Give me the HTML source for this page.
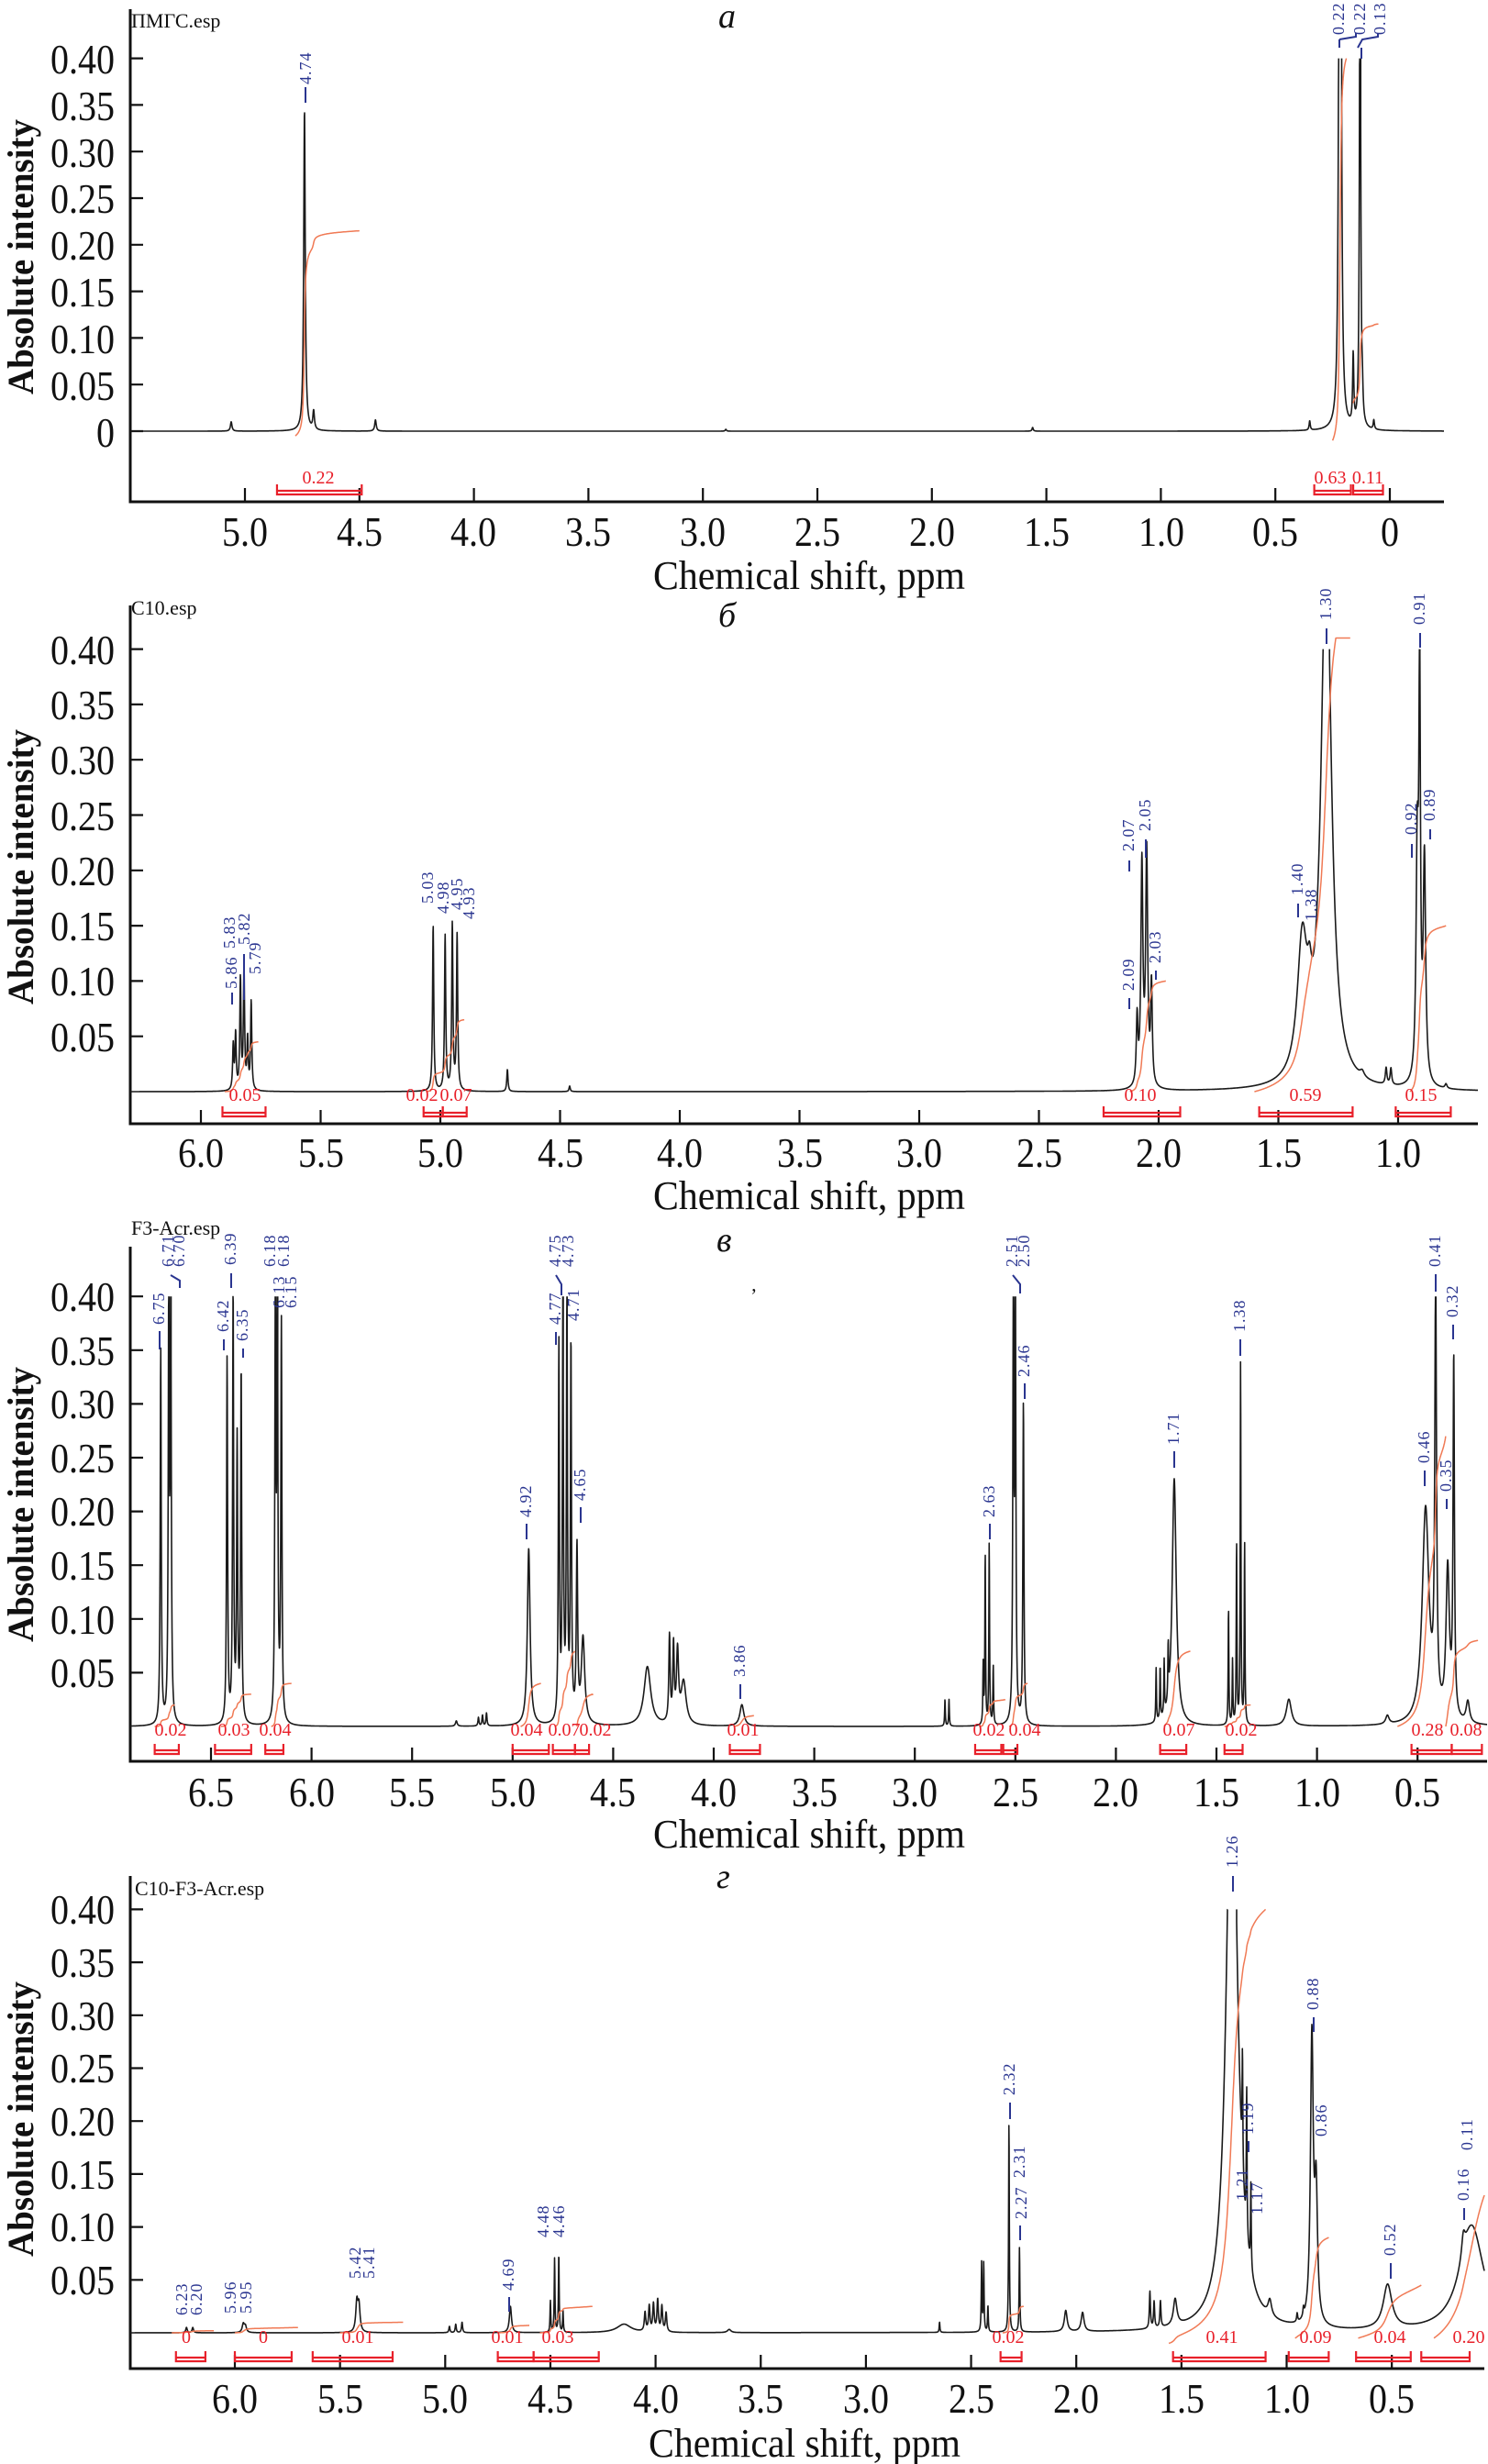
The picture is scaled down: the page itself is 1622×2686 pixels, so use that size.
<!DOCTYPE html>
<html><head><meta charset="utf-8">
<style>
html,body{margin:0;padding:0;background:#fff;}
svg{display:block;}
.tk{font-family:"Liberation Serif",serif;font-size:46px;fill:#111;}
.xl{font-family:"Liberation Serif",serif;font-size:44px;fill:#111;}
.yl{font-family:"Liberation Serif",serif;font-size:40px;fill:#111;font-weight:bold;}
.fn{font-family:"Liberation Serif","Noto Serif CJK SC",serif;font-size:22px;fill:#111;}
.ttl{font-family:"Liberation Serif",serif;font-size:38px;font-style:italic;fill:#111;}
.bl{font-family:"Liberation Serif",serif;font-size:18px;fill:#2a3590;letter-spacing:1px;}
.rd{font-family:"Liberation Serif",serif;font-size:20px;fill:#e8202a;}
</style></head><body>
<svg id="s" xmlns="http://www.w3.org/2000/svg" width="1622" height="2686" viewBox="0 0 1622 2686">
<rect width="1622" height="2686" fill="#fff"/>
<g id="dyn"></g>

<!-- Panel a -->
<text class="fn" x="143" y="30">ПМГС.esp</text>
<text class="ttl" x="783" y="30">a</text>
<g class="tk" text-anchor="end">
<text x="125" y="80" textLength="70" lengthAdjust="spacingAndGlyphs">0.40</text>
<text x="125" y="131" textLength="70" lengthAdjust="spacingAndGlyphs">0.35</text>
<text x="125" y="182" textLength="70" lengthAdjust="spacingAndGlyphs">0.30</text>
<text x="125" y="232" textLength="70" lengthAdjust="spacingAndGlyphs">0.25</text>
<text x="125" y="283" textLength="70" lengthAdjust="spacingAndGlyphs">0.20</text>
<text x="125" y="334" textLength="70" lengthAdjust="spacingAndGlyphs">0.15</text>
<text x="125" y="385" textLength="70" lengthAdjust="spacingAndGlyphs">0.10</text>
<text x="125" y="436" textLength="70" lengthAdjust="spacingAndGlyphs">0.05</text>
<text x="125" y="487" textLength="20" lengthAdjust="spacingAndGlyphs">0</text>
</g>
<g class="tk tkx" text-anchor="middle">
<text x="267" y="595">5.0</text><text x="392" y="595">4.5</text><text x="516" y="595">4.0</text><text x="641" y="595">3.5</text><text x="766" y="595">3.0</text><text x="891" y="595">2.5</text><text x="1016" y="595">2.0</text><text x="1141" y="595">1.5</text><text x="1266" y="595">1.0</text><text x="1390" y="595">0.5</text><text x="1515" y="595">0</text>
</g>
<text class="xl" x="882" y="642" text-anchor="middle" textLength="340" lengthAdjust="spacingAndGlyphs">Chemical shift, ppm</text>
<text class="yl" transform="translate(36,430) rotate(-90)" textLength="300" lengthAdjust="spacingAndGlyphs">Absolute intensity</text>
<g class="bl">
<text transform="translate(339,92) rotate(-90)">4.74</text>
<text transform="translate(1465,38) rotate(-90)">0.22</text>
<text transform="translate(1488,38) rotate(-90)">0.22</text>
<text transform="translate(1510,38) rotate(-90)">0.13</text>
</g>
<g stroke="#2a3590" stroke-width="2" fill="none">
<path d="M333 95V112"/><path d="M1460 43V52M1460 43L1478 40V36M1480 52L1485 43L1502 40V36M1484 52V64"/>
</g>
<g class="rd" text-anchor="middle">
<text x="347" y="527">0.22</text><text x="1450" y="527">0.63</text><text x="1491" y="527">0.11</text>
</g>

<!-- Panel b -->
<text class="fn" x="143" y="670">C10.esp</text>
<text class="ttl" x="783" y="683">б</text>
<g class="tk" text-anchor="end">
<text x="125" y="724" textLength="70" lengthAdjust="spacingAndGlyphs">0.40</text>
<text x="125" y="784" textLength="70" lengthAdjust="spacingAndGlyphs">0.35</text>
<text x="125" y="844" textLength="70" lengthAdjust="spacingAndGlyphs">0.30</text>
<text x="125" y="905" textLength="70" lengthAdjust="spacingAndGlyphs">0.25</text>
<text x="125" y="965" textLength="70" lengthAdjust="spacingAndGlyphs">0.20</text>
<text x="125" y="1025" textLength="70" lengthAdjust="spacingAndGlyphs">0.15</text>
<text x="125" y="1085" textLength="70" lengthAdjust="spacingAndGlyphs">0.10</text>
<text x="125" y="1146" textLength="70" lengthAdjust="spacingAndGlyphs">0.05</text>
</g>
<g class="tk tkx" text-anchor="middle">
<text x="219" y="1272">6.0</text><text x="350" y="1272">5.5</text><text x="480" y="1272">5.0</text><text x="611" y="1272">4.5</text><text x="741" y="1272">4.0</text><text x="872" y="1272">3.5</text><text x="1002" y="1272">3.0</text><text x="1133" y="1272">2.5</text><text x="1263" y="1272">2.0</text><text x="1394" y="1272">1.5</text><text x="1524" y="1272">1.0</text>
</g>
<text class="xl" x="882" y="1318" text-anchor="middle" textLength="340" lengthAdjust="spacingAndGlyphs">Chemical shift, ppm</text>
<text class="yl" transform="translate(36,1095) rotate(-90)" textLength="300" lengthAdjust="spacingAndGlyphs">Absolute intensity</text>
<g class="bl">
<text transform="translate(258,1078) rotate(-90)">5.86</text>
<text transform="translate(256,1034) rotate(-90)">5.83</text>
<text transform="translate(272,1030) rotate(-90)">5.82</text>
<text transform="translate(284,1062) rotate(-90)">5.79</text>
<text transform="translate(472,985) rotate(-90)">5.03</text>
<text transform="translate(489,996) rotate(-90)">4.98</text>
<text transform="translate(504,992) rotate(-90)">4.95</text>
<text transform="translate(517,1002) rotate(-90)">4.93</text>
<text transform="translate(1236,1080) rotate(-90)">2.09</text>
<text transform="translate(1236,928) rotate(-90)">2.07</text>
<text transform="translate(1254,906) rotate(-90)">2.05</text>
<text transform="translate(1265,1050) rotate(-90)">2.03</text>
<text transform="translate(1420,976) rotate(-90)">1.40</text>
<text transform="translate(1435,1004) rotate(-90)">1.38</text>
<text transform="translate(1451,676) rotate(-90)">1.30</text>
<text transform="translate(1544,910) rotate(-90)">0.92</text>
<text transform="translate(1553,681) rotate(-90)">0.91</text>
<text transform="translate(1564,895) rotate(-90)">0.89</text>
</g>
<g stroke="#2a3590" stroke-width="2" fill="none">
<path d="M253 1082V1095M266 1040V1090M1231 938V950M1249 915V935M1446 685V702M1548 690V706M1539 920V935M1559 904V915M1415 985V1000M1231 1088V1100M1260 1058V1068"/>
</g>
<g class="rd" text-anchor="middle">
<text x="267" y="1200">0.05</text><text x="460" y="1200">0.02</text><text x="497" y="1200">0.07</text><text x="1243" y="1200">0.10</text><text x="1423" y="1200">0.59</text><text x="1549" y="1200">0.15</text>
</g>

<!-- Panel v -->
<text class="fn" x="143" y="1346">F3-Acr.esp</text>
<text class="ttl" x="781" y="1364">в</text>
<text class="fn" x="818" y="1420">ʼ</text>
<g class="tk" text-anchor="end">
<text x="125" y="1429" textLength="70" lengthAdjust="spacingAndGlyphs">0.40</text>
<text x="125" y="1488" textLength="70" lengthAdjust="spacingAndGlyphs">0.35</text>
<text x="125" y="1546" textLength="70" lengthAdjust="spacingAndGlyphs">0.30</text>
<text x="125" y="1605" textLength="70" lengthAdjust="spacingAndGlyphs">0.25</text>
<text x="125" y="1663" textLength="70" lengthAdjust="spacingAndGlyphs">0.20</text>
<text x="125" y="1722" textLength="70" lengthAdjust="spacingAndGlyphs">0.15</text>
<text x="125" y="1781" textLength="70" lengthAdjust="spacingAndGlyphs">0.10</text>
<text x="125" y="1839" textLength="70" lengthAdjust="spacingAndGlyphs">0.05</text>
</g>
<g class="tk tkx" text-anchor="middle">
<text x="230" y="1969">6.5</text><text x="340" y="1969">6.0</text><text x="449" y="1969">5.5</text><text x="559" y="1969">5.0</text><text x="668" y="1969">4.5</text><text x="778" y="1969">4.0</text><text x="888" y="1969">3.5</text><text x="997" y="1969">3.0</text><text x="1107" y="1969">2.5</text><text x="1216" y="1969">2.0</text><text x="1326" y="1969">1.5</text><text x="1436" y="1969">1.0</text><text x="1545" y="1969">0.5</text>
</g>
<text class="xl" x="882" y="2014" text-anchor="middle" textLength="340" lengthAdjust="spacingAndGlyphs">Chemical shift, ppm</text>
<text class="yl" transform="translate(36,1790) rotate(-90)" textLength="300" lengthAdjust="spacingAndGlyphs">Absolute intensity</text>
<g class="bl">
<text transform="translate(179,1444) rotate(-90)">6.75</text>
<text transform="translate(189,1381) rotate(-90)">6.71</text>
<text transform="translate(201,1381) rotate(-90)">6.70</text>
<text transform="translate(249,1452) rotate(-90)">6.42</text>
<text transform="translate(257,1379) rotate(-90)">6.39</text>
<text transform="translate(270,1462) rotate(-90)">6.35</text>
<text transform="translate(300,1381) rotate(-90)">6.18</text>
<text transform="translate(315,1381) rotate(-90)">6.18</text>
<text transform="translate(310,1426) rotate(-90)">6.13</text>
<text transform="translate(323,1426) rotate(-90)">6.15</text>
<text transform="translate(579,1654) rotate(-90)">4.92</text>
<text transform="translate(611,1444) rotate(-90)">4.77</text>
<text transform="translate(611,1381) rotate(-90)">4.75</text>
<text transform="translate(625,1381) rotate(-90)">4.73</text>
<text transform="translate(631,1440) rotate(-90)">4.71</text>
<text transform="translate(638,1636) rotate(-90)">4.65</text>
<text transform="translate(812,1828) rotate(-90)">3.86</text>
<text transform="translate(1084,1654) rotate(-90)">2.63</text>
<text transform="translate(1109,1381) rotate(-90)">2.51</text>
<text transform="translate(1122,1381) rotate(-90)">2.50</text>
<text transform="translate(1122,1501) rotate(-90)">2.46</text>
<text transform="translate(1285,1575) rotate(-90)">1.71</text>
<text transform="translate(1357,1452) rotate(-90)">1.38</text>
<text transform="translate(1558,1595) rotate(-90)">0.46</text>
<text transform="translate(1570,1381) rotate(-90)">0.41</text>
<text transform="translate(1582,1626) rotate(-90)">0.35</text>
<text transform="translate(1589,1436) rotate(-90)">0.32</text>
</g>
<g stroke="#2a3590" stroke-width="2" fill="none">
<path d="M174 1451V1471M186 1390L196 1396V1404M252 1388V1404M244 1460V1472M265 1470V1480M574 1661V1678M633 1643V1660M807 1836V1852M1079 1661V1678M1104 1390L1112 1400V1410M1117 1508V1525M1280 1582V1600M1352 1460V1478M1553 1603V1620M1565 1389V1408M1584 1444V1460M606 1390L612 1400V1412M606 1452V1466M1577 1634V1645"/>
</g>
<g class="rd" text-anchor="middle">
<text x="186" y="1892">0.02</text><text x="255" y="1892">0.03</text><text x="300" y="1892">0.04</text><text x="574" y="1892">0.04</text><text x="615" y="1892">0.07</text><text x="649" y="1892">0.02</text><text x="810" y="1892">0.01</text><text x="1078" y="1892">0.02</text><text x="1117" y="1892">0.04</text><text x="1285" y="1892">0.07</text><text x="1353" y="1892">0.02</text><text x="1556" y="1892">0.28</text><text x="1598" y="1892">0.08</text>
</g>

<!-- Panel g -->
<text class="fn" x="147" y="2066">C10-F3-Acr.esp</text>
<text class="ttl" x="781" y="2058">г</text>
<g class="tk" text-anchor="end">
<text x="125" y="2097" textLength="70" lengthAdjust="spacingAndGlyphs">0.40</text>
<text x="125" y="2155" textLength="70" lengthAdjust="spacingAndGlyphs">0.35</text>
<text x="125" y="2213" textLength="70" lengthAdjust="spacingAndGlyphs">0.30</text>
<text x="125" y="2270" textLength="70" lengthAdjust="spacingAndGlyphs">0.25</text>
<text x="125" y="2328" textLength="70" lengthAdjust="spacingAndGlyphs">0.20</text>
<text x="125" y="2386" textLength="70" lengthAdjust="spacingAndGlyphs">0.15</text>
<text x="125" y="2443" textLength="70" lengthAdjust="spacingAndGlyphs">0.10</text>
<text x="125" y="2501" textLength="70" lengthAdjust="spacingAndGlyphs">0.05</text>
</g>
<g class="tk tkx" text-anchor="middle">
<text x="256" y="2630">6.0</text><text x="371" y="2630">5.5</text><text x="485" y="2630">5.0</text><text x="600" y="2630">4.5</text><text x="715" y="2630">4.0</text><text x="829" y="2630">3.5</text><text x="944" y="2630">3.0</text><text x="1059" y="2630">2.5</text><text x="1173" y="2630">2.0</text><text x="1288" y="2630">1.5</text><text x="1403" y="2630">1.0</text><text x="1517" y="2630">0.5</text>
</g>
<text class="xl" x="877" y="2678" text-anchor="middle" textLength="340" lengthAdjust="spacingAndGlyphs">Chemical shift, ppm</text>
<text class="yl" transform="translate(36,2460) rotate(-90)" textLength="300" lengthAdjust="spacingAndGlyphs">Absolute intensity</text>
<g class="bl">
<text transform="translate(204,2524) rotate(-90)">6.23</text>
<text transform="translate(220,2524) rotate(-90)">6.20</text>
<text transform="translate(257,2522) rotate(-90)">5.96</text>
<text transform="translate(274,2522) rotate(-90)">5.95</text>
<text transform="translate(393,2484) rotate(-90)">5.42</text>
<text transform="translate(408,2484) rotate(-90)">5.41</text>
<text transform="translate(560,2497) rotate(-90)">4.69</text>
<text transform="translate(598,2439) rotate(-90)">4.48</text>
<text transform="translate(615,2439) rotate(-90)">4.46</text>
<text transform="translate(1106,2284) rotate(-90)">2.32</text>
<text transform="translate(1117,2374) rotate(-90)">2.31</text>
<text transform="translate(1119,2419) rotate(-90)">2.27</text>
<text transform="translate(1349,2036) rotate(-90)">1.26</text>
<text transform="translate(1360,2399) rotate(-90)">1.21</text>
<text transform="translate(1366,2327) rotate(-90)">1.19</text>
<text transform="translate(1376,2414) rotate(-90)">1.17</text>
<text transform="translate(1437,2191) rotate(-90)">0.88</text>
<text transform="translate(1446,2329) rotate(-90)">0.86</text>
<text transform="translate(1521,2459) rotate(-90)">0.52</text>
<text transform="translate(1601,2399) rotate(-90)">0.16</text>
<text transform="translate(1605,2344) rotate(-90)">0.11</text>
</g>
<g stroke="#2a3590" stroke-width="2" fill="none">
<path d="M1344 2045V2062M1432 2199V2215M1516 2467V2484M1101 2292V2310M1112 2426V2442M555 2504V2520M1361 2334V2346M1596 2407V2420"/>
</g>
<g class="rd" text-anchor="middle">
<text x="203" y="2554">0</text><text x="287" y="2554">0</text><text x="390" y="2554">0.01</text><text x="553" y="2554">0.01</text><text x="608" y="2554">0.03</text><text x="1099" y="2554">0.02</text><text x="1332" y="2554">0.41</text><text x="1434" y="2554">0.09</text><text x="1515" y="2554">0.04</text><text x="1601" y="2554">0.20</text>
</g>
</svg>
<script>
(function(){
var tx=document.querySelectorAll(".tkx text");
for(var i=0;i<tx.length;i++){var t=tx[i].textContent;tx[i].setAttribute("textLength",t.length==1?20:50);tx[i].setAttribute("lengthAdjust","spacingAndGlyphs");}
var NS="http://www.w3.org/2000/svg",G=document.getElementById("dyn");
function el(t,a){var e=document.createElementNS(NS,t);for(var k in a)e.setAttribute(k,a[k]);G.appendChild(e);return e;}
var panels=[
{x0:1515,p0:0,k:249.6,base:470,sc:1016,L:142,R:1574,top:10,bot:547,ticks:[5,4.5,4,3.5,3,2.5,2,1.5,1,0.5,0],yt:[0,.05,.1,.15,.2,.25,.3,.35,.4],
 pk:[[4.74,.345,.004],[4.70,.02,.004],[5.06,.01,.004],[4.43,.012,.004],[0.22,.6,.004],[0.215,.6,.004],[0.13,.6,.003],[0.16,.075,.003],[0.12,.025,.003],[0.07,.01,.003],[0.35,.01,.003],[1.56,.004,.003],[2.9,.002,.003]],
 ints:[[4.78,4.5,-.005,.215],[0.25,0.19,-.01,.4],[0.16,0.05,.03,.115]],
 br:[[4.86,4.49],[0.33,0.17],[0.16,0.03]],by:537},
{x0:219,p0:6,k:261,base:1190,sc:1206,L:142,R:1611,top:660,bot:1225,ticks:[6,5.5,5,4.5,4,3.5,3,2.5,2,1.5,1],yt:[.05,.1,.15,.2,.25,.3,.35,.4],
 pk:[[5.865,.04,.003],[5.855,.05,.003],[5.835,.1,.003],[5.82,.11,.003],[5.805,.045,.003],[5.79,.08,.003],[5.03,.15,.003],[4.98,.14,.003],[4.95,.15,.003],[4.93,.14,.003],[4.72,.02,.003],[4.46,.005,.003],[2.09,.06,.004],[2.07,.2,.005],[2.05,.21,.005],[2.03,.09,.004],[1.40,.12,.025],[1.30,.5,.025],[1.37,.03,.01],[0.92,.2,.006],[0.91,.35,.004],[0.89,.2,.006],[1.05,.015,.004],[1.03,.015,.004],[1.15,.005,.01],[0.8,.004,.005]],
 ints:[[5.9,5.76,0,.045],[5.06,4.9,0,.065],[2.12,1.97,0,.1],[1.6,1.2,0,.45],[0.95,0.8,0,.15]],
 br:[[5.91,5.73],[5.07,4.99],[4.99,4.89],[2.23,1.91],[1.58,1.19],[1.01,0.78]],by:1215},
{x0:230,p0:6.5,k:219.2,base:1882,sc:1172,L:142,R:1621,top:1359,bot:1920,ticks:[6.5,6,5.5,5,4.5,4,3.5,3,2.5,2,1.5,1,0.5],yt:[.05,.1,.15,.2,.25,.3,.35,.4],
 pk:[[6.75,.35,.003],[6.71,.4,.003],[6.70,.4,.003],[6.42,.34,.003],[6.39,.4,.003],[6.37,.26,.003],[6.35,.33,.003],[6.18,.4,.003],[6.17,.4,.003],[6.15,.37,.003],[4.92,.165,.008],[4.77,.35,.003],[4.75,.4,.003],[4.73,.4,.003],[4.71,.35,.003],[4.68,.16,.004],[4.65,.08,.01],[4.33,.055,.02],[4.22,.08,.004],[4.20,.07,.004],[4.18,.065,.006],[4.15,.04,.015],[3.86,.02,.012],[2.85,.025,.002],[2.83,.025,.002],[2.66,.055,.002],[2.65,.16,.002],[2.63,.17,.002],[2.61,.055,.002],[2.51,.4,.003],[2.50,.4,.003],[2.46,.3,.003],[1.80,.05,.002],[1.78,.05,.002],[1.76,.05,.002],[1.74,.05,.002],[1.71,.23,.012],[1.44,.11,.002],[1.42,.06,.002],[1.40,.17,.002],[1.38,.34,.002],[1.36,.17,.002],[1.14,.025,.015],[0.65,.008,.01],[0.46,.2,.02],[0.41,.4,.005],[0.35,.14,.01],[0.32,.33,.004],[0.25,.02,.01],[5.15,.01,.003],[5.13,.012,.003],[5.17,.008,.003],[5.28,.005,.005]],
 ints:[[6.78,6.68,0,.02],[6.45,6.3,0,.03],[6.2,6.1,0,.04],[4.96,4.86,0,.04],[4.79,4.69,0,.07],[4.68,4.6,0,.03],[3.9,3.8,0,.01],[2.68,2.55,0,.025],[2.53,2.44,0,.04],[1.76,1.63,0,.07],[1.46,1.33,0,.02],[0.6,0.36,0,.27],[0.36,0.2,0,.08]],
 br:[[6.78,6.66],[6.48,6.3],[6.23,6.14],[5.0,4.82],[4.8,4.69],[4.69,4.62],[3.92,3.77],[2.7,2.57],[2.56,2.49],[1.78,1.65],[1.46,1.37],[0.53,0.33],[0.33,0.18]],by:1910},
{x0:256,p0:6,k:229.3,base:2543,sc:1154,L:142,R:1618,top:2045,bot:2582,ticks:[6,5.5,5,4.5,4,3.5,3,2.5,2,1.5,1,0.5],yt:[.05,.1,.15,.2,.25,.3,.35,.4],
 pk:[[6.23,.005,.004],[6.20,.005,.004],[5.96,.008,.006],[5.95,.006,.006],[5.42,.028,.006],[5.41,.024,.006],[4.69,.025,.006],[4.50,.03,.002],[4.48,.07,.002],[4.46,.075,.002],[4.44,.02,.002],[4.95,.008,.003],[4.92,.01,.003],[4.98,.006,.003],[4.15,.008,.04],[4.05,.018,.004],[4.03,.024,.004],[4.01,.026,.004],[3.99,.03,.004],[3.97,.024,.004],[3.95,.018,.004],[3.65,.003,.01],[2.65,.01,.002],[2.45,.065,.002],[2.44,.065,.002],[2.42,.025,.002],[2.32,.2,.002],[2.27,.08,.002],[2.05,.02,.008],[1.97,.018,.008],[1.65,.035,.003],[1.63,.025,.003],[1.60,.025,.003],[1.53,.025,.01],[1.26,.6,.03],[1.21,.11,.002],[1.19,.14,.002],[1.17,.08,.002],[1.08,.015,.01],[0.95,.008,.003],[0.92,.008,.003],[0.88,.27,.008],[0.86,.12,.008],[0.52,.042,.025],[0.12,.1,.07],[0.16,.02,.01]],
 ints:[[6.3,6.1,0,.002],[6.0,5.7,0,.005],[5.5,5.2,0,.01],[4.75,4.6,0,.007],[4.55,4.3,0,.025],[2.35,2.25,0,.025],[1.56,1.1,-.01,.40],[0.96,0.8,-.005,.09],[0.66,0.36,-.005,.045],[0.3,0.06,-.005,.13]],
 br:[[6.28,6.14],[6.0,5.73],[5.63,5.25],[4.75,4.58],[4.58,4.27],[2.36,2.26],[1.54,1.1],[0.99,0.8],[0.67,0.41],[0.36,0.13]],by:2572}
];
panels.forEach(function(P){
 function X(p){return P.x0+(P.p0-p)*P.k;}
 function Pp(x){return P.p0-(x-P.x0)/P.k;}
 function I(p){var s=0;for(var i=0;i<P.pk.length;i++){var q=P.pk[i],d=(p-q[0])/q[2];s+=q[1]/(1+d*d);}return s;}
 el("path",{d:"M"+P.L+" "+P.top+"V"+P.bot+"H"+P.R,stroke:"#111","stroke-width":3,fill:"none"});
 var d="";
 P.yt.forEach(function(v){var y=P.base-v*P.sc;d+="M"+P.L+" "+y+"h14";});
 P.ticks.forEach(function(t){var x=X(t);d+="M"+x+" "+P.bot+"v-15";});
 el("path",{d:d,stroke:"#111","stroke-width":2.2,fill:"none"});
 // spectrum, broken where clipped at 0.40
 var lim=0.40,segs=[],cur=[];
 for(var x=P.L;x<=P.R;x+=0.25){var raw=I(Pp(x));
  if(raw>lim){ if(cur.length){cur.push(x.toFixed(2)+" "+(P.base-lim*P.sc).toFixed(1));segs.push(cur);cur=[];} continue;}
  if(!cur.length && x>P.L){cur.push(x.toFixed(2)+" "+(P.base-lim*P.sc).toFixed(1));}
  cur.push(x.toFixed(2)+" "+(P.base-raw*P.sc).toFixed(1));}
 if(cur.length)segs.push(cur);
 var dd="";segs.forEach(function(s){dd+="M"+s.join("L");});
 el("path",{d:dd,stroke:"#1a1a1a","stroke-width":1.6,fill:"none","stroke-linejoin":"round"});
 P.ints.forEach(function(r){
  var a=r[0],b=r[1],n=200,cum=[0],tot=0;
  for(var i=1;i<=n;i++){var p=a+(b-a)*i/n;tot+=I(p)+0.0002;cum.push(tot);}
  var s=[];for(var i=0;i<=n;i++){var p=a+(b-a)*i/n;var v=r[2]+(r[3]-r[2])*cum[i]/tot;s.push(X(p).toFixed(1)+" "+(P.base-Math.min(v,.41)*P.sc).toFixed(1));}
  el("path",{d:"M"+s.join("L"),stroke:"#f07a55","stroke-width":1.5,fill:"none"});
 });
 P.br.forEach(function(b){var x1=X(b[0]),x2=X(b[1]),y=P.by;
  el("path",{d:"M"+x1+" "+(y-9)+"V"+(y+2)+"H"+x2+"V"+(y-9)+"M"+x1+" "+(y-2)+"H"+x2,stroke:"#e8202a","stroke-width":2.2,fill:"none"});});
});
})();
</script>
</body></html>
